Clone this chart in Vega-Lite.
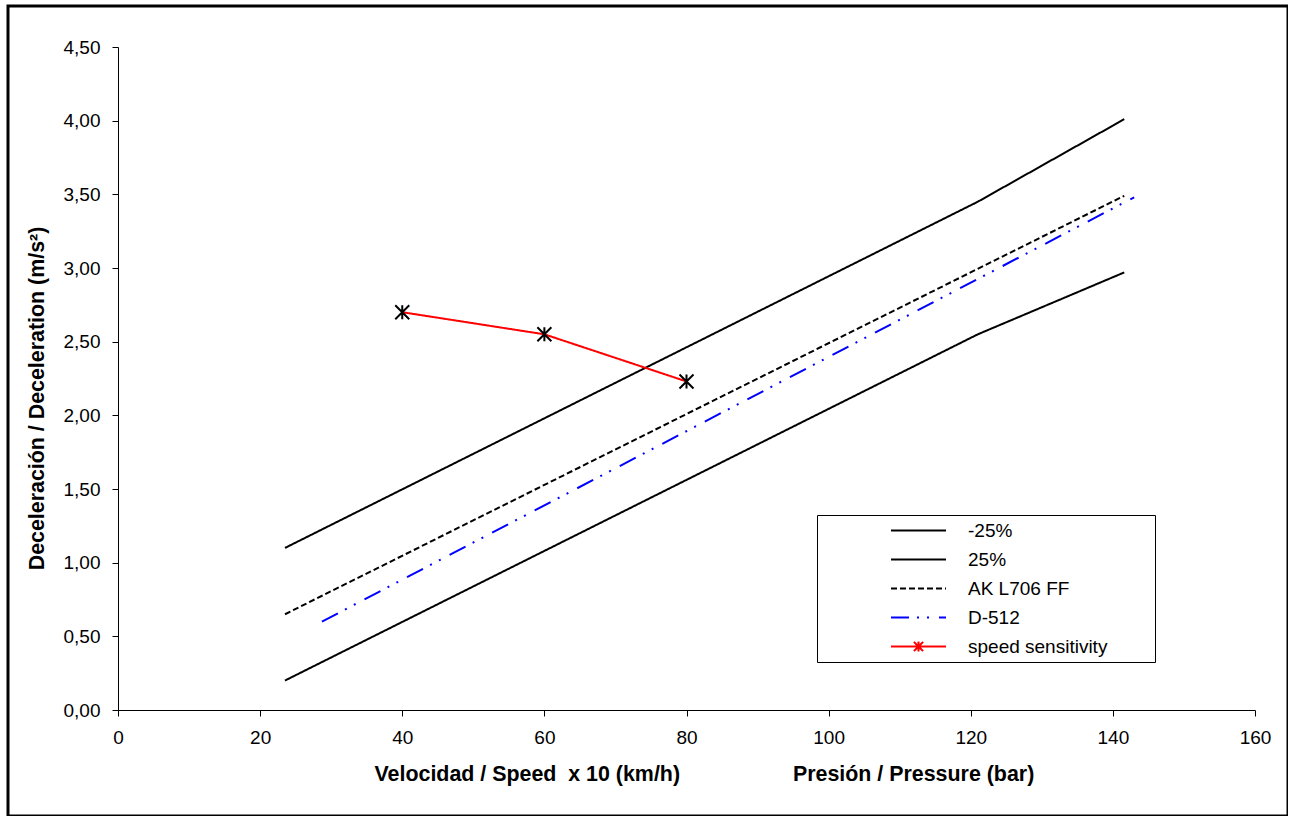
{
  "$schema": "https://vega.github.io/schema/vega-lite/v6.json",
  "width": 1280,
  "height": 810,
  "autosize": {"type": "none"},
  "padding": {"left": 8, "top": 6, "right": 0, "bottom": 0},
  "background": "white",
  "config": {
    "font": "Liberation Sans",
    "view": {"stroke": "black", "strokeWidth": 3},
    "axis": {
      "grid": false,
      "domainColor": "black",
      "domainWidth": 1,
      "tickColor": "black",
      "tickWidth": 1,
      "tickSize": 6,
      "labelColor": "black",
      "labelFont": "Liberation Sans",
      "labelFontSize": 19,
      "labelFlush": false,
      "titleColor": "black",
      "titleFont": "Liberation Sans",
      "titleFontSize": 21.4,
      "titleFontWeight": "bold"
    },
    "legend": {
      "labelFont": "Liberation Sans",
      "labelFontSize": 19,
      "labelColor": "black"
    }
  },
  "data": {
    "values": [
      {"series": "-25%", "x": 23.5, "y": 1.10},
      {"series": "-25%", "x": 121, "y": 3.45},
      {"series": "-25%", "x": 141.6, "y": 4.01},
      {"series": "25%", "x": 23.5, "y": 0.20},
      {"series": "25%", "x": 121, "y": 2.55},
      {"series": "25%", "x": 141.6, "y": 2.97},
      {"series": "AK L706 FF", "x": 23.5, "y": 0.65},
      {"series": "AK L706 FF", "x": 141.6, "y": 3.49},
      {"series": "D-512", "x": 28.7, "y": 0.60},
      {"series": "D-512", "x": 143, "y": 3.48},
      {"series": "speed sensitivity", "x": 40, "y": 2.70},
      {"series": "speed sensitivity", "x": 60, "y": 2.55},
      {"series": "speed sensitivity", "x": 80, "y": 2.23}
    ]
  },
  "layer": [
    {
      "mark": {"type": "line", "strokeWidth": 2},
      "encoding": {
        "x": {
          "field": "x",
          "type": "quantitative",
          "scale": {"domain": [0, 160], "range": [110, 1247], "nice": false, "zero": false},
          "axis": {
            "values": [0, 20, 40, 60, 80, 100, 120, 140, 160],
            "labelPadding": 12,
            "offset": -106,
            "title": "Velocidad / Speed\u00a0\u00a0x 10 (km/h)\u00a0\u00a0\u00a0\u00a0\u00a0\u00a0\u00a0\u00a0\u00a0\u00a0\u00a0\u00a0\u00a0\u00a0\u00a0\u00a0\u00a0\u00a0\u00a0Presión / Pressure (bar)",
            "titleX": 366,
            "titleY": 70,
            "titleAlign": "left",
            "titleAnchor": "start",
            "titleBaseline": "alphabetic"
          }
        },
        "y": {
          "field": "y",
          "type": "quantitative",
          "scale": {"domain": [0, 4.5], "range": [704, 41], "nice": false, "zero": false},
          "axis": {
            "values": [0, 0.5, 1, 1.5, 2, 2.5, 3, 3.5, 4, 4.5],
            "labelExpr": "replace(format(datum.value, '.2f'), '.', ',')",
            "labelPadding": 12,
            "offset": -110,
            "title": "Deceleración / Deceleration (m/s²)",
            "titleX": -81,
            "titleY": 392,
            "titleAngle": 270,
            "titleAlign": "center",
            "titleBaseline": "middle"
          }
        },
        "color": {
          "field": "series",
          "type": "nominal",
          "scale": {
            "domain": ["-25%", "25%", "AK L706 FF", "D-512", "speed sensitivity"],
            "range": ["#000000", "#000000", "#000000", "#0000FF", "#FF0000"]
          },
          "legend": {
            "title": null,
            "orient": "none",
            "legendX": 809,
            "legendY": 509,
            "symbolType": "M-3,0L3,0",
            "symbolSize": 336,
            "symbolStrokeWidth": 2,
            "symbolOffset": 86,
            "labelOffset": 39,
            "labelLimit": 400,
            "padding": 5,
            "rowPadding": 8,
            "strokeColor": "black",
            "fillColor": "white",
            "labelExpr": "datum.label + '\u00a0\u00a0\u00a0\u00a0\u00a0\u00a0\u00a0\u00a0\u200b'"
          }
        },
        "strokeDash": {
          "field": "series",
          "type": "nominal",
          "scale": {
            "domain": ["-25%", "25%", "AK L706 FF", "D-512", "speed sensitivity"],
            "range": [[1, 0], [1, 0], [6, 3], [18, 8, 2, 8, 2, 10], [1, 0]]
          },
          "legend": {
            "title": null,
            "orient": "none",
            "legendX": 809,
            "legendY": 509,
            "symbolType": "M-3,0L3,0",
            "symbolSize": 336,
            "symbolStrokeWidth": 2,
            "symbolOffset": 86,
            "labelOffset": 39,
            "labelLimit": 400,
            "padding": 5,
            "rowPadding": 8,
            "strokeColor": "black",
            "fillColor": "white",
            "labelExpr": "datum.label + '\u00a0\u00a0\u00a0\u00a0\u00a0\u00a0\u00a0\u00a0\u200b'"
          }
        }
      }
    },
    {
      "transform": [{"filter": "datum.series === 'none'"}],
      "mark": {"type": "point", "filled": false, "strokeWidth": 2, "opacity": 1},
      "encoding": {
        "x": {"field": "x", "type": "quantitative"},
        "y": {"field": "y", "type": "quantitative"},
        "shape": {
          "field": "series",
          "type": "nominal",
          "scale": {
            "domain": ["-25%", "25%", "AK L706 FF", "D-512", "speed sensitivity"],
            "range": ["M-3,0L3,0", "M-3,0L3,0", "M-3,0L3,0", "M-3,0L3,0", "M-3,0L3,0M-0.5,-0.5L0.5,0.5M-0.5,0.5L0.5,-0.5M0,-0.55L0,0.55"]
          },
          "legend": {
            "title": null,
            "orient": "none",
            "legendX": 809,
            "legendY": 509,
            "symbolSize": 336,
            "symbolStrokeWidth": 2,
            "symbolOffset": 86,
            "labelOffset": 39,
            "labelLimit": 400,
            "padding": 5,
            "rowPadding": 8,
            "strokeColor": "black",
            "fillColor": "white",
            "labelExpr": "datum.label + '\u00a0\u00a0\u00a0\u00a0\u00a0\u00a0\u00a0\u00a0\u200b'"
          }
        }
      }
    },
    {
      "transform": [{"filter": "datum.series === 'speed sensitivity'"}],
      "mark": {
        "type": "point",
        "shape": "M-1,-1L1,1M-1,1L1,-1M0,-1L0,1",
        "size": 196,
        "stroke": "black",
        "strokeWidth": 2,
        "filled": false,
        "opacity": 1
      },
      "encoding": {
        "x": {"field": "x", "type": "quantitative"},
        "y": {"field": "y", "type": "quantitative"}
      }
    }
  ]
}
